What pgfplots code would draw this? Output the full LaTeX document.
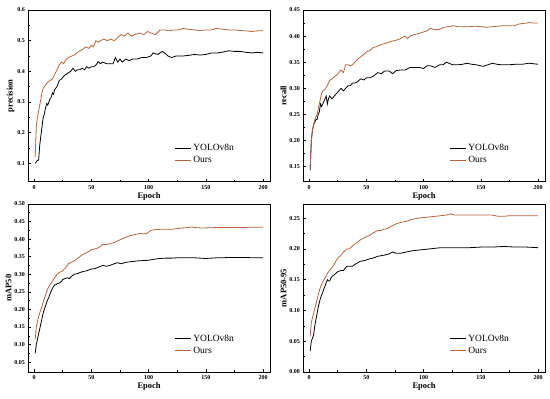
\documentclass[border=0pt]{standalone}
\usepackage{pgfplots}
\pgfplotsset{compat=1.18}
\usepackage{fontspec}
\setmainfont{Liberation Serif}
\definecolor{ours}{RGB}{180,100,60}
\pgfplotsset{
  panel/.style={
    scale only axis, width=241.7pt,
    xmin=-5, xmax=206,
    xtick={0,50,100,150,200},
    minor x tick num=1, minor y tick num=1,
    tick align=inside, tick pos=left,
    major tick length=3pt, minor tick length=1.6pt,
    every tick/.style={black, line width=0.6pt},
    axis line style={line width=0.7pt},
    /pgf/number format/assume math mode=true,
    tick label style={font=\bfseries\fontsize{6}{7}\selectfont},
    label style={font=\bfseries\fontsize{8.5}{10}\selectfont},
    xlabel={Epoch},
    xlabel style={yshift=4pt},
    ylabel style={yshift=-4pt},
    legend style={draw=none, fill=none, at={(0.6,0.085)}, anchor=south west,
      font=\fontsize{9.5}{11}\selectfont, row sep=0pt, inner sep=1pt},
    legend image code/.code={\draw[#1] (0pt,0pt) -- (16pt,0pt);},
    legend cell align=left,
    every axis plot/.append style={line width=0.8pt},
  }
}
\begin{document}
\begin{tikzpicture}
\path[use as bounding box] (0pt,0pt) rectangle (550pt,-399pt);
% precision
\begin{axis}[panel, at={(28.3pt,-10pt)}, anchor=north west, height=171.7pt,
  ymin=0.04, ymax=0.6, ytick={0.1,0.2,...,0.6},
  yticklabel style={/pgf/number format/.cd, fixed, precision=1},
  ylabel={precision}]
\addplot[black] coordinates {(1,0.1)(2,0.105)(3,0.11)(4,0.11)(5,0.16)(6,0.19)(7,0.22)(8,0.25)(9,0.26)(10,0.28)(11,0.295)(12,0.29)(13,0.3)(14,0.31)(15,0.315)(16,0.33)(17,0.325)(18,0.34)(19,0.345)(20,0.35)(21,0.36)(22,0.37)(24,0.375)(26,0.385)(28,0.39)(30,0.395)(32,0.4)(34,0.41)(36,0.4)(38,0.405)(40,0.405)(42,0.41)(44,0.405)(46,0.415)(48,0.41)(50,0.415)(52,0.415)(54,0.42)(56,0.432)(58,0.425)(60,0.43)(63,0.425)(66,0.425)(69,0.425)(71,0.445)(73,0.43)(75,0.44)(77,0.43)(80,0.44)(83,0.435)(86,0.44)(90,0.44)(94,0.445)(98,0.445)(102,0.45)(104,0.46)(108,0.455)(112,0.465)(114,0.46)(117,0.45)(120,0.445)(124,0.45)(130,0.45)(135,0.452)(140,0.455)(145,0.453)(150,0.455)(155,0.46)(160,0.46)(165,0.463)(170,0.467)(175,0.465)(180,0.465)(185,0.462)(190,0.46)(195,0.462)(200,0.46)};
\addlegendentry{YOLOv8n}
\addplot[ours] coordinates {(1,0.12)(2,0.22)(3,0.25)(4,0.27)(5,0.29)(6,0.31)(7,0.33)(8,0.345)(10,0.355)(12,0.365)(14,0.37)(16,0.375)(18,0.39)(20,0.405)(22,0.42)(24,0.43)(26,0.425)(28,0.44)(30,0.445)(33,0.45)(36,0.455)(39,0.465)(42,0.47)(45,0.48)(48,0.475)(50,0.485)(52,0.48)(54,0.5)(56,0.495)(58,0.5)(61,0.505)(64,0.5)(67,0.505)(70,0.5)(73,0.51)(76,0.52)(79,0.515)(82,0.525)(85,0.515)(88,0.52)(92,0.525)(96,0.52)(99,0.53)(102,0.525)(106,0.52)(110,0.535)(114,0.535)(118,0.532)(122,0.535)(126,0.535)(130,0.54)(135,0.537)(140,0.535)(145,0.533)(150,0.535)(155,0.535)(159,0.54)(165,0.537)(170,0.535)(175,0.535)(180,0.533)(185,0.532)(190,0.53)(195,0.532)(200,0.532)};
\addlegendentry{Ours}
\end{axis}
% recall
\begin{axis}[panel, at={(303.3pt,-10pt)}, anchor=north west, height=171.7pt,
  ymin=0.121, ymax=0.45, ytick={0.15,0.20,...,0.45},
  yticklabel style={/pgf/number format/.cd, fixed, fixed zerofill, precision=2},
  ylabel={recall}]
\addplot[black] coordinates {(1,0.143)(2,0.2)(3,0.22)(4,0.23)(5,0.235)(6,0.24)(7,0.24)(8,0.25)(9,0.255)(10,0.27)(11,0.265)(12,0.27)(13,0.275)(14,0.28)(15,0.285)(16,0.27)(17,0.28)(18,0.285)(20,0.28)(22,0.285)(24,0.29)(26,0.295)(28,0.3)(30,0.295)(32,0.3)(34,0.305)(36,0.305)(38,0.31)(40,0.31)(42,0.312)(45,0.318)(48,0.316)(50,0.32)(53,0.32)(56,0.323)(60,0.33)(63,0.328)(66,0.333)(70,0.333)(73,0.328)(76,0.334)(80,0.335)(84,0.335)(88,0.34)(92,0.34)(96,0.34)(100,0.338)(103,0.343)(106,0.343)(110,0.34)(114,0.345)(117,0.345)(120,0.35)(123,0.347)(126,0.345)(130,0.345)(134,0.346)(138,0.348)(142,0.346)(146,0.345)(152,0.342)(156,0.345)(160,0.348)(164,0.346)(168,0.345)(174,0.345)(180,0.346)(186,0.346)(192,0.348)(196,0.347)(200,0.346)};
\addlegendentry{YOLOv8n}
\addplot[ours] coordinates {(1,0.147)(2,0.2)(3,0.22)(4,0.23)(5,0.24)(6,0.245)(7,0.25)(8,0.26)(9,0.27)(10,0.28)(11,0.29)(12,0.295)(14,0.298)(16,0.305)(18,0.315)(20,0.318)(22,0.322)(24,0.325)(26,0.33)(28,0.335)(30,0.33)(32,0.345)(34,0.345)(36,0.343)(38,0.345)(40,0.35)(42,0.355)(45,0.36)(48,0.365)(50,0.37)(53,0.372)(56,0.378)(59,0.38)(62,0.383)(65,0.385)(68,0.387)(72,0.39)(76,0.392)(80,0.395)(82,0.398)(84,0.4)(86,0.395)(88,0.4)(92,0.403)(96,0.405)(100,0.408)(103,0.41)(106,0.415)(110,0.412)(114,0.413)(118,0.417)(122,0.418)(126,0.42)(130,0.418)(135,0.418)(140,0.418)(145,0.419)(150,0.418)(155,0.417)(160,0.418)(165,0.419)(170,0.42)(175,0.42)(180,0.42)(183,0.423)(186,0.424)(190,0.425)(192,0.426)(196,0.425)(200,0.425)};
\addlegendentry{Ours}
\end{axis}
% mAP50
\begin{axis}[panel, at={(28.3pt,-204pt)}, anchor=north west, height=168pt,
  ymin=0.022, ymax=0.5, ytick={0.05,0.10,...,0.50},
  yticklabel style={/pgf/number format/.cd, fixed, fixed zerofill, precision=2},
  ylabel={mAP50}]
\addplot[black] coordinates {(1,0.075)(2,0.1)(3,0.115)(4,0.13)(5,0.145)(6,0.16)(7,0.175)(8,0.19)(9,0.2)(10,0.21)(11,0.22)(12,0.228)(13,0.235)(14,0.245)(15,0.252)(16,0.26)(17,0.265)(18,0.27)(19,0.27)(20,0.273)(22,0.275)(24,0.28)(25,0.285)(27,0.288)(29,0.29)(31,0.288)(33,0.295)(35,0.3)(38,0.302)(40,0.305)(43,0.308)(46,0.31)(50,0.315)(53,0.316)(56,0.32)(60,0.325)(63,0.323)(66,0.325)(70,0.33)(73,0.333)(76,0.33)(80,0.334)(85,0.336)(90,0.338)(95,0.339)(100,0.34)(105,0.343)(110,0.345)(115,0.346)(120,0.346)(125,0.347)(130,0.347)(135,0.347)(140,0.347)(145,0.346)(150,0.345)(155,0.346)(160,0.347)(165,0.347)(170,0.348)(175,0.348)(180,0.348)(185,0.348)(190,0.347)(195,0.347)(200,0.347)};
\addlegendentry{YOLOv8n}
\addplot[ours] coordinates {(1,0.115)(2,0.15)(3,0.165)(4,0.18)(5,0.19)(6,0.2)(7,0.21)(8,0.22)(9,0.23)(10,0.24)(11,0.25)(12,0.258)(13,0.265)(14,0.27)(15,0.275)(17,0.285)(19,0.295)(20,0.3)(22,0.305)(25,0.31)(28,0.32)(30,0.33)(33,0.335)(36,0.34)(40,0.35)(42,0.355)(45,0.36)(48,0.365)(50,0.37)(53,0.372)(56,0.375)(58,0.38)(60,0.385)(64,0.385)(67,0.388)(70,0.39)(73,0.395)(76,0.4)(80,0.405)(84,0.41)(88,0.413)(92,0.416)(96,0.415)(99,0.417)(102,0.425)(106,0.427)(110,0.428)(115,0.428)(120,0.428)(125,0.43)(130,0.432)(135,0.433)(138,0.435)(140,0.433)(145,0.432)(150,0.432)(160,0.433)(170,0.433)(180,0.433)(190,0.434)(200,0.434)};
\addlegendentry{Ours}
\end{axis}
% mAP50-95
\begin{axis}[panel, at={(303.3pt,-204pt)}, anchor=north west, height=168pt,
  ymin=0, ymax=0.273, ytick={0,0.05,...,0.25},
  yticklabel style={/pgf/number format/.cd, fixed, fixed zerofill, precision=2},
  ylabel={mAP50-95}]
\addplot[black] coordinates {(1,0.034)(2,0.05)(3,0.055)(4,0.06)(5,0.075)(6,0.085)(7,0.095)(8,0.105)(9,0.113)(10,0.12)(11,0.125)(12,0.13)(13,0.135)(14,0.14)(15,0.145)(16,0.15)(17,0.148)(18,0.148)(19,0.152)(20,0.155)(22,0.158)(25,0.163)(28,0.165)(30,0.165)(33,0.172)(36,0.172)(38,0.172)(41,0.176)(45,0.18)(48,0.181)(50,0.182)(53,0.184)(56,0.185)(60,0.188)(63,0.189)(66,0.19)(70,0.192)(73,0.195)(76,0.193)(80,0.193)(85,0.195)(90,0.197)(95,0.198)(100,0.199)(105,0.2)(110,0.201)(115,0.202)(120,0.202)(130,0.202)(140,0.202)(150,0.203)(160,0.203)(170,0.204)(180,0.203)(190,0.203)(200,0.202)};
\addlegendentry{YOLOv8n}
\addplot[ours] coordinates {(1,0.058)(2,0.08)(3,0.088)(4,0.095)(5,0.103)(6,0.11)(7,0.118)(8,0.125)(9,0.132)(10,0.138)(11,0.142)(13,0.15)(15,0.156)(16,0.16)(18,0.165)(20,0.17)(22,0.175)(25,0.185)(28,0.19)(30,0.195)(33,0.2)(35,0.2)(38,0.205)(40,0.208)(43,0.212)(45,0.215)(48,0.218)(50,0.22)(53,0.222)(55,0.225)(58,0.228)(60,0.23)(63,0.23)(65,0.232)(68,0.233)(70,0.235)(73,0.238)(75,0.24)(78,0.242)(80,0.243)(85,0.245)(90,0.248)(95,0.25)(100,0.251)(105,0.252)(110,0.253)(115,0.254)(120,0.255)(123,0.257)(127,0.255)(130,0.255)(140,0.255)(150,0.255)(160,0.255)(165,0.253)(170,0.253)(175,0.254)(180,0.254)(190,0.254)(200,0.254)};
\addlegendentry{Ours}
\end{axis}
\end{tikzpicture}
\end{document}
